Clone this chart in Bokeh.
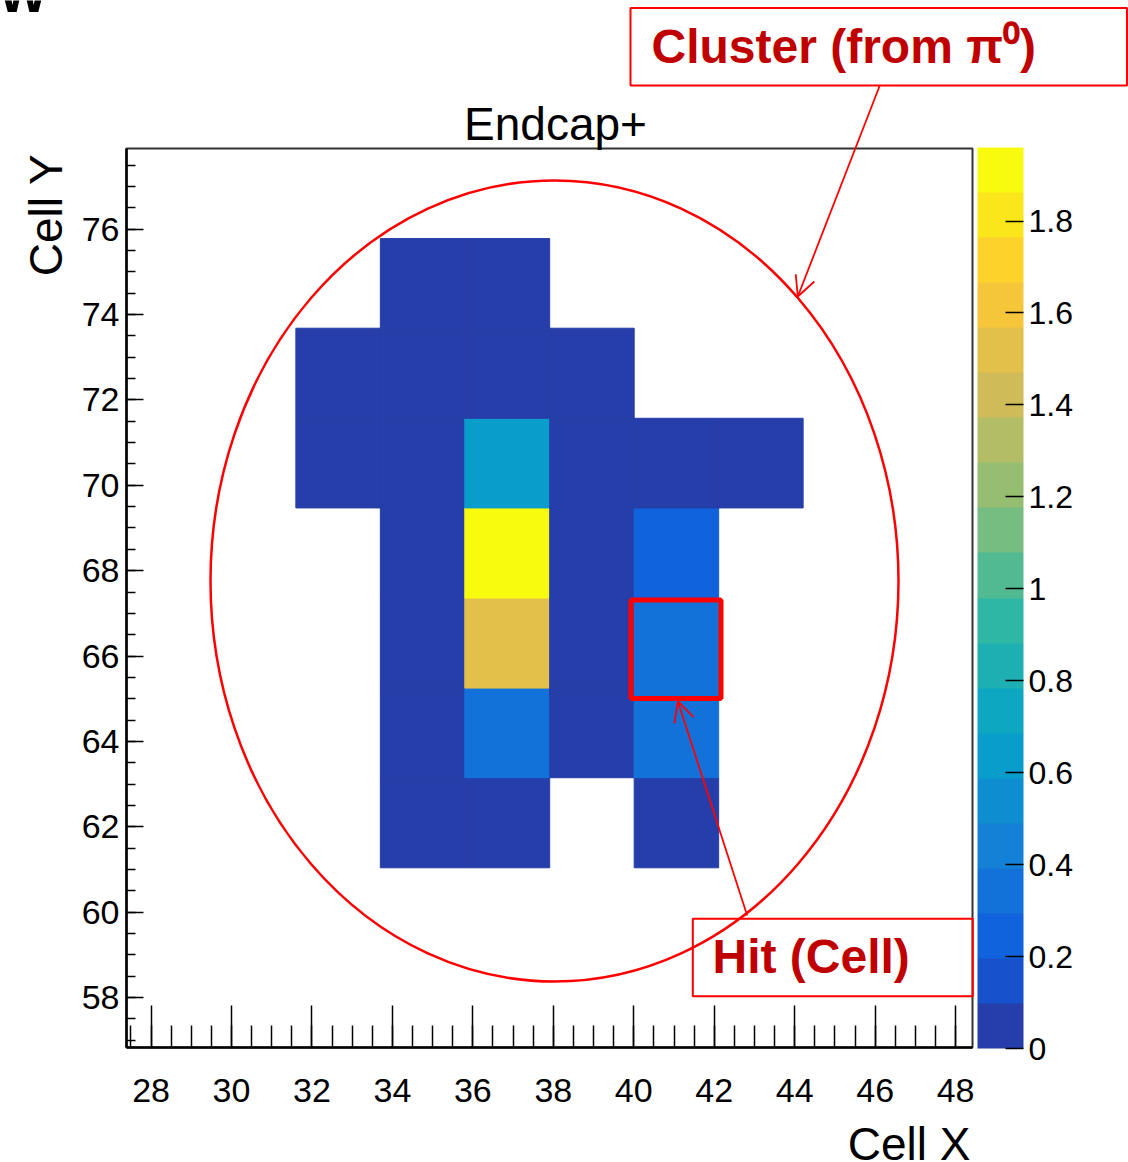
import numpy as np
from bokeh.plotting import figure
from bokeh.models import (ColumnDataSource, LinearColorMapper, ColorBar, FixedTicker,
                          PrintfTickFormatter, Label, Arrow, OpenHead, BoxAnnotation,
                          LinearAxis, Range1d)
from bokeh.transform import transform
from bokeh.embed import file_html
from bokeh.resources import INLINE

# ---- histogram binning: 10 x 10 cells ----
x_edges = [27.39, 29.49, 31.60, 33.70, 35.80, 37.91, 40.01, 42.11, 44.21, 46.32, 48.42]
y_edges = [56.83, 58.94, 61.04, 63.15, 65.25, 67.36, 69.47, 71.57, 73.68, 75.78, 77.89]

# ---- filled cells: bin index in x, bin index in y, deposited energy ----
cell_ix = [2, 2,
           3, 3, 3, 3, 3, 3, 3,
           4, 4, 4, 4, 4, 4, 4,
           5, 5, 5, 5, 5,
           6, 6, 6, 6, 6,
           7]
cell_iy = [6, 7,
           2, 3, 4, 5, 6, 7, 8,
           2, 3, 4, 5, 6, 7, 8,
           3, 4, 5, 6, 7,
           2, 3, 4, 5, 6,
           6]
cell_energy = [0.05, 0.03,
               0.04, 0.07, 0.06, 0.08, 0.05, 0.06, 0.03,
               0.06, 0.34, 1.52, 1.96, 0.64, 0.08, 0.04,
               0.05, 0.09, 0.07, 0.06, 0.04,
               0.05, 0.33, 0.36, 0.26, 0.07,
               0.03]

# ---- axis ticks ----
x_ticks = [28, 30, 32, 34, 36, 38, 40, 42, 44, 46, 48]
y_ticks = [58, 60, 62, 64, 66, 68, 70, 72, 74, 76]
z_ticks = [0, 0.2, 0.4, 0.6, 0.8, 1.0, 1.2, 1.4, 1.6, 1.8]

FONT = "Liberation Sans"
W, H = 1128, 1162

# ---- page geometry: histogram frame inside the canvas (pixels) ----
FRAME_L, FRAME_R, FRAME_T, FRAME_B = 126, 972, 148, 1047
PX = (FRAME_R - FRAME_L) / (x_edges[-1] - x_edges[0])   # pixels per x unit
PY = (FRAME_B - FRAME_T) / (y_edges[-1] - y_edges[0])   # pixels per y unit


def dx(px):
    """canvas pixel column -> x data value"""
    return x_edges[0] + (px - FRAME_L) / PX


def dy(py):
    """canvas pixel row -> y data value"""
    return y_edges[-1] - (py - FRAME_T) / PY


# ---- ROOT "bird" palette, sampled for 20 contour levels ----
stops = [0.0, 0.125, 0.25, 0.375, 0.5, 0.625, 0.75, 0.875, 1.0]
red = [0.2082, 0.0592, 0.0780, 0.0232, 0.1802, 0.5301, 0.8186, 0.9956, 0.9764]
green = [0.1664, 0.3599, 0.5041, 0.6419, 0.7178, 0.7492, 0.7328, 0.7862, 0.9832]
blue = [0.5293, 0.8684, 0.8385, 0.7914, 0.6425, 0.4662, 0.3499, 0.1968, 0.0539]
n_levels = 20
palette = []
for k in range(n_levels):
    f = (k + 0.99) / n_levels
    r, g, b = (int(round(255 * np.interp(f, stops, c))) for c in (red, green, blue))
    palette.append("#%02x%02x%02x" % (r, g, b))

mapper = LinearColorMapper(palette=palette, low=0, high=max(cell_energy))

src = ColumnDataSource(dict(
    left=[x_edges[i] for i in cell_ix],
    right=[x_edges[i + 1] for i in cell_ix],
    bottom=[y_edges[j] for j in cell_iy],
    top=[y_edges[j + 1] for j in cell_iy],
    energy=cell_energy,
))

# the plotting area spans the whole canvas so that the callouts can
# reach outside the histogram box; axes are pinned to the box edges
p = figure(width=W, height=H,
           x_range=Range1d(dx(0), dx(W)), y_range=Range1d(dy(H), dy(0)),
           x_axis_location=None, y_axis_location=None,
           min_border=0, output_backend="svg", toolbar_location=None)
p.grid.visible = False
p.outline_line_color = None
p.background_fill_color = "white"
p.border_fill_color = "white"

p.quad(left="left", right="right", bottom="bottom", top="top", source=src,
       fill_color=transform("energy", mapper), line_color=transform("energy", mapper),
       line_width=1)

# histogram box
p.quad(left=[x_edges[0]], right=[x_edges[-1]], bottom=[y_edges[0]], top=[y_edges[-1]],
       fill_alpha=0, line_color="#333333", line_width=2)

xaxis = LinearAxis(fixed_location=y_edges[0], bounds=(x_edges[0], x_edges[-1]),
                   ticker=FixedTicker(ticks=x_ticks,
                                      minor_ticks=list(np.arange(27.5, 48.5, 0.5))))
yaxis = LinearAxis(fixed_location=x_edges[0], bounds=(y_edges[0], y_edges[-1]),
                   ticker=FixedTicker(ticks=y_ticks,
                                      minor_ticks=list(np.arange(57.0, 78.0, 0.5))))
for ax in (xaxis, yaxis):
    ax.major_label_text_font = FONT
    ax.major_label_text_font_size = "34px"
    ax.major_label_text_color = "black"
    ax.axis_line_width = 2.5
    ax.axis_line_color = "black"
    ax.major_tick_line_width = 1.5
    ax.minor_tick_line_width = 1.5
    ax.major_tick_line_color = "black"
    ax.minor_tick_line_color = "black"
    ax.major_tick_out = 0
    ax.minor_tick_out = 0
xaxis.major_tick_in = 42
xaxis.minor_tick_in = 22
xaxis.major_label_standoff = 31
yaxis.major_tick_in = 17
yaxis.minor_tick_in = 9
yaxis.major_label_standoff = 7
p.add_layout(xaxis, "below")
p.add_layout(yaxis, "left")

# alphabetic baselines land this far (in em) below the anchor
BASE = 0.354

# title and axis titles
p.add_layout(Label(x=dx(555), y=dy(139.3 - BASE * 46), text="Endcap+", text_font=FONT,
                   text_font_size="46px", text_align="center", text_baseline="alphabetic",
                   text_color="black"))
p.add_layout(Label(x=dx(970), y=dy(1160 - BASE * 46), text="Cell X", text_font=FONT,
                   text_font_size="46px", text_align="right", text_baseline="alphabetic",
                   text_color="black"))
p.add_layout(Label(x=dx(62 - BASE * 46), y=dy(153), text="Cell Y", text_font=FONT,
                   text_font_size="46px", angle=np.pi / 2, text_align="right",
                   text_baseline="alphabetic", text_color="black"))

# ---- colour scale ----
cb = ColorBar(color_mapper=mapper, ticker=FixedTicker(ticks=z_ticks),
              formatter=PrintfTickFormatter(format="%g"),
              width=46, height=901, margin=0, padding=0, location=(977, H - 1048),
              major_tick_in=18, major_tick_out=0, major_tick_line_color="black",
              major_tick_line_width=1.5, minor_tick_line_color=None,
              major_label_text_font=FONT, major_label_text_font_size="32px",
              major_label_text_color="black",
              label_standoff=5, bar_line_color=None, border_line_color=None,
              background_fill_alpha=0)
p.add_layout(cb)

# ---- callouts ----
RED = "#ff0000"
DARK_RED = "#c00000"

# cluster outline
p.ellipse(x=[dx(554)], y=[dy(580.5)], width=[688 / PX], height=[801 / PY],
          fill_alpha=0, line_color=RED, line_width=2.5)

# highlighted single cell
p.add_layout(BoxAnnotation(left=dx(630.5), right=dx(720.5), bottom=dy(698), top=dy(599.5),
                           fill_alpha=0, line_color=RED, line_alpha=1, line_width=5))

# text boxes
p.add_layout(BoxAnnotation(left=dx(630), right=dx(1126.5), bottom=dy(85), top=dy(7.5),
                           fill_alpha=0, line_color=RED, line_alpha=1, line_width=2))
p.add_layout(BoxAnnotation(left=dx(692.3), right=dx(972.3), bottom=dy(995.7), top=dy(918.3),
                           fill_alpha=0, line_color=RED, line_alpha=1, line_width=2))

p.add_layout(Label(x=dx(651), y=dy(63.3 - BASE * 48), text="Cluster (from π⁰)",
                   text_font=FONT, text_font_style="bold", text_font_size="48px",
                   text_color=DARK_RED, text_align="left", text_baseline="alphabetic"))
p.add_layout(Label(x=dx(712), y=dy(973.3 - BASE * 48), text="Hit (Cell)",
                   text_font=FONT, text_font_style="bold", text_font_size="48px",
                   text_color=DARK_RED, text_align="left", text_baseline="alphabetic"))

# pointers
p.add_layout(Arrow(end=OpenHead(size=20, line_color=RED, line_width=1.8),
                   x_start=dx(879.3), y_start=dy(85), x_end=dx(797.3), y_end=dy(296),
                   line_color=RED, line_width=1.8))
p.add_layout(Arrow(end=OpenHead(size=20, line_color=RED, line_width=1.8),
                   x_start=dx(746.7), y_start=dy(915), x_end=dx(677.3), y_end=dy(700.7),
                   line_color=RED, line_width=1.8))

# slide heading fragment at the very top edge
p.add_layout(Label(x=dx(47), y=dy(12 - BASE * 52), text="W", text_font=FONT,
                   text_font_style="bold", text_font_size="52px", text_color="black",
                   text_align="right", text_baseline="alphabetic"))

open("out.html", "w").write(file_html(p, INLINE))
